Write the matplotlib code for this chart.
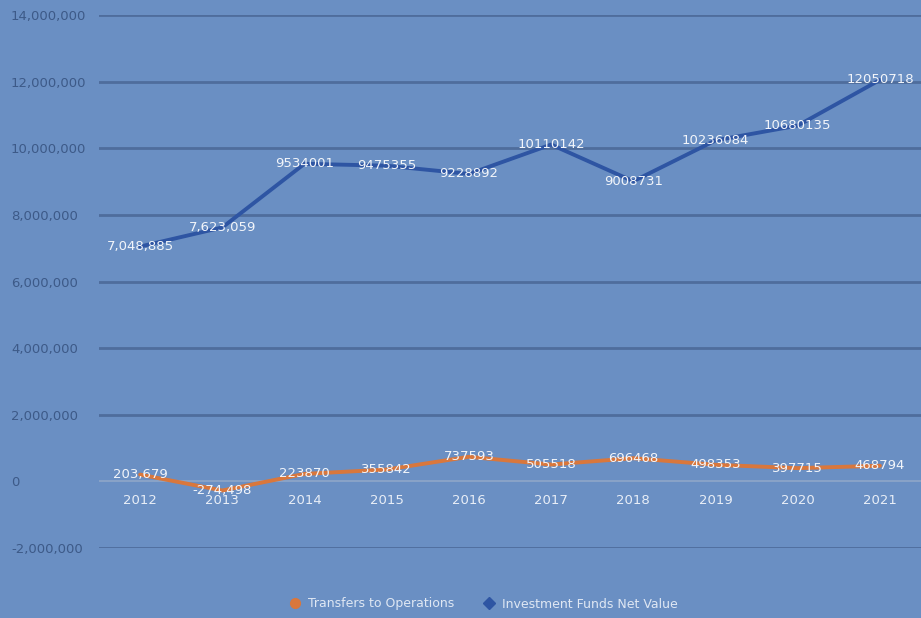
import matplotlib
matplotlib.use("Agg")
import matplotlib.pyplot as plt
from matplotlib.lines import Line2D

years = ["2012", "2013", "2014", "2015", "2016", "2017", "2018", "2019", "2020", "2021"]
transfers = [203679, -274498, 223870, 355842, 737593, 505518, 696468, 498353, 397715, 468794]
investment = [7048885, 7623059, 9534001, 9475355, 9228892, 10110142, 9008731, 10236084, 10680135, 12050718]
transfer_labels = ["203,679", "-274,498", "223870", "355842", "737593", "505518", "696468", "498353", "397715", "468794"]
invest_labels = ["7,048,885", "7,623,059", "9534001", "9475355", "9228892", "10110142", "9008731", "10236084", "10680135", "12050718"]
yticks = [-2000000, 0, 2000000, 4000000, 6000000, 8000000, 10000000, 12000000, 14000000]

bg = "#6a8fc3"
grid_c = "#4f6d9c"
tick_c = "#3d5a88"
label_c = "#f2f5fa"
blue = "#2e55a3"
orange = "#d9773c"

fig = plt.figure(figsize=(9.21, 6.18), dpi=100, facecolor=bg)
ax = fig.add_axes([99 / 921, (618 - 548) / 618, 822 / 921, 533 / 618])
ax.set_facecolor(bg)

x = list(range(len(years)))
ax.plot(x, investment, color=blue, lw=2.8, solid_capstyle="round", zorder=3)
ax.plot(x, transfers, color=orange, lw=2.8, solid_capstyle="round", zorder=3)

for xi, v, t in zip(x, investment, invest_labels):
    ax.text(xi, v, t, ha="center", va="center", color=label_c, fontsize=9.5, zorder=5)
for xi, v, t in zip(x, transfers, transfer_labels):
    ax.text(xi, v, t, ha="center", va="center", color=label_c, fontsize=9.5, zorder=5)

ax.set_xlim(-0.5, len(years) - 0.5)
ax.set_ylim(-2000000, 14000000)
ax.set_yticks(yticks)
ax.set_yticklabels([f"{v:,}" for v in yticks])
for v in yticks:
    if v != 0:
        ax.axhline(v, color=grid_c, lw=2, zorder=1)
ax.axhline(0, color="#8fa6c8", lw=1.2, zorder=2)

ax.tick_params(axis="y", length=0, labelsize=9.5, labelcolor=tick_c)
for lab in ax.get_yticklabels():
    lab.set_horizontalalignment("left")
ax.yaxis.set_tick_params(pad=(99 - 11) * 0.72)

ax.set_xticks([])
for xi, yr in zip(x, years):
    ax.text(xi, -560000, yr, ha="center", va="center", color="#e8eef7", fontsize=9.5, zorder=4)

for s in ax.spines.values():
    s.set_visible(False)

handles = [
    Line2D([], [], color=orange, marker="o", ls="none", markersize=7, label="Transfers to Operations"),
    Line2D([], [], color=blue, marker="D", ls="none", markersize=6, label="Investment Funds Net Value"),
]
fig.legend(handles=handles, loc="center", bbox_to_anchor=(480 / 921, 1 - 604 / 618), ncol=2,
           frameon=False, fontsize=9, labelcolor="#dfe7f3", handletextpad=0.0, columnspacing=1.8)

fig.savefig("out.png", dpi=100, facecolor=bg)
